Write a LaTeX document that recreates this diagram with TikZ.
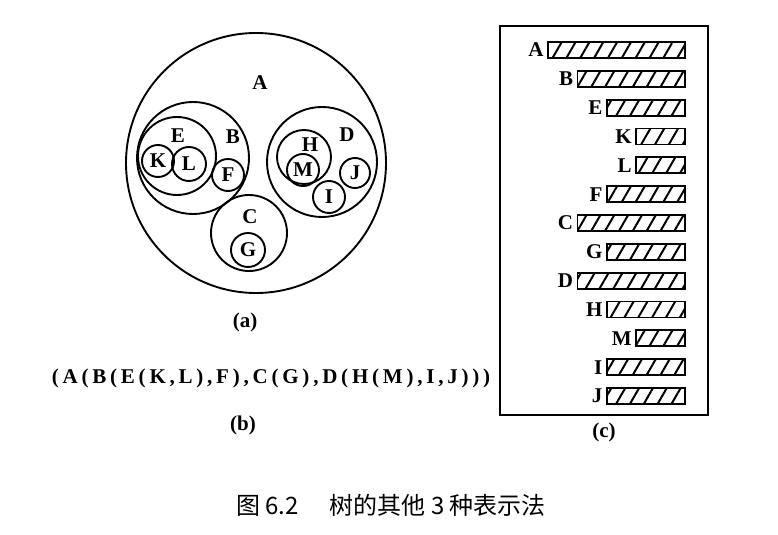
\documentclass[tikz,border=0pt]{standalone}
\usepackage{fontspec}
\setmainfont{Liberation Serif}
\newfontfamily\cjk{Noto Sans CJK SC}
\usetikzlibrary{patterns.meta}

\begin{document}
\begin{tikzpicture}[x=0.5pt, y=-0.5pt, font=\fontsize{10.5}{12}\selectfont\bfseries]
    \tikzstyle{ring} = [circle, draw, line width=0.95pt, inner sep=0pt]
    \tikzstyle{tag} = [inner sep=0pt]
    \tikzstyle{bar} = [rectangle, draw, line width=0.9pt, minimum height=8pt,
                       inner sep=0pt, anchor=east,
                       pattern={Lines[angle=60, distance=6pt, line width=1pt]}]

    \useasboundingbox (0,0) rectangle (778,535);

    \node [ring, minimum size=130pt] (A) at (256,163) {};
    \node [ring, minimum size=56pt] (B) at (193,158) {};
    \node [ring, minimum size=39pt] (E) at (177,156) {};
    \node [ring, minimum size=16pt] (K) at (158,161) {K};
    \node [ring, minimum size=17pt] (L) at (189,164) {L};
    \node [ring, minimum size=16pt] (F) at (228,175) {F};
    \node [ring, minimum size=38pt] (C) at (249,233) {};
    \node [ring, minimum size=17pt] (G) at (248,250) {G};
    \node [ring, minimum size=55pt] (D) at (322,162) {};
    \node [ring, minimum size=27pt] (H) at (304,157) {};
    \node [ring, minimum size=16pt] (M) at (303,170) {M};
    \node [ring, minimum size=16pt] (I) at (329,197) {I};
    \node [ring, minimum size=15pt] (J) at (355,173) {J};

    \node [tag] (tA) at (260,83) {A};
    \node [tag] (tB) at (233,137) {B};
    \node [tag] (tE) at (178,136) {E};
    \node [tag] (tC) at (250,217) {C};
    \node [tag] (tD) at (347,135) {D};
    \node [tag] (tH) at (310,145) {H};
    \node [tag] (capa) at (245,322) {(a)};

    \node [tag] (list) at (271,378) {\addfontfeature{LetterSpace=18}(A(B(E(K,L),F),C(G),D(H(M),I,J)))};
    \node [tag] (capb) at (243,425) {(b)};

    \draw [line width=0.8pt] (500,26) rectangle (708,415);
    \foreach \n/\d [count=\i from 0] in {A/0, B/1, E/2, K/3, L/3, F/2, C/1,
                                          G/2, D/1, H/2, M/3, I/2, J/2} {
        \node [bar, minimum width={(137-29.3*\d)*0.5pt}] (bar\n) at (686,{50+28.83*\i}) {};
        \node [anchor=east, inner sep=1.5pt] (lab\n) at (bar\n.west) {\n};
    }
    \node [tag] (capc) at (604,432) {(c)};

    \node [tag] (title) at (391,505) {\cjk\mdseries\fontsize{12}{14}\selectfont 图 6.2\hspace{1.3em}树的其他 3 种表示法};
\end{tikzpicture}
\end{document}
